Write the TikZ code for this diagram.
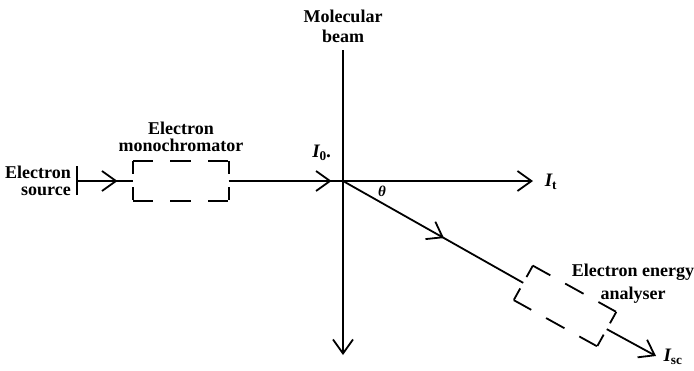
\documentclass[tikz,border=0pt]{standalone}
\usepackage{fontspec}
\setmainfont{Liberation Serif}
\usetikzlibrary{arrows.meta,positioning,decorations.markings}
\tikzset{
  beam/.style={
    line width=1.8pt
  },
  tip/.style={
    -{Straight Barb[length=14pt,width=20pt,line width=1.8pt]}
  },
  midtip/.style={
    postaction={decorate},
    decoration={markings,
      mark=at position #1 with {\arrow{Straight Barb[length=14pt,width=20pt,line width=1.8pt]}}}
  },
  instr/.style={
    minimum width=95pt,
    minimum height=39pt,
    inner sep=0pt
  },
  longside/.style={
    line width=1.8pt,
    dash pattern=on 20pt off 17pt on 21pt off 17pt
  },
  shortside/.style={
    line width=1.8pt,
    dash pattern=on 13pt off 13pt
  },
  lbl/.style={
    align=center,
    inner sep=0pt,
    font=\fontsize{18}{17}\selectfont\bfseries
  },
  sym/.style={
    inner sep=0pt,
    font=\fontsize{19}{19}\selectfont\bfseries\itshape
  }
}

\begin{document}
\begin{tikzpicture}[x=1pt,y=-1pt]
\useasboundingbox (0,0) rectangle (694,370);

% --- Points ---
\coordinate (src) at (77,181);
\coordinate (O) at (343,181);
\coordinate (mbtop) at (343,50);
\coordinate (mbend) at (343,355);
\coordinate (tend) at (533,181);
\coordinate (scend) at (656,356);

% --- Instruments (dashed boxes) ---
\node[instr] (mono) at (181,181) {};
\node[instr, rotate=-29] (ana) at (565,306) {};
\foreach \b in {mono,ana} {
  \draw[longside] (\b.north west) -- (\b.north east);
  \draw[longside] (\b.south west) -- (\b.south east);
  \draw[shortside] (\b.north west) -- (\b.south west);
  \draw[shortside] (\b.north east) -- (\b.south east);
}

% --- Source and beams ---
\draw[beam] ([yshift=-14pt]src) -- ([yshift=15pt]src);
\draw[beam, midtip=0.72] (src) -- (mono.west);
\draw[beam, midtip=0.9] (mono.east) -- (O);
\draw[beam, tip] (O) -- (tend);
\draw[beam, tip] (mbtop) -- (mbend);
\draw[beam, midtip=0.56] (O) -- (ana.west);
\draw[beam, tip] (ana.east) -- (scend);

% --- Labels ---
\node[lbl, align=right, anchor=north east] (srclbl) at (71,166) {Electron\\source};
\node[lbl, above=9pt of mono] (monolbl) {Electron\\monochromator};
\node[lbl, above=7pt of mbtop] (mblbl) {Molecular\\[3pt]beam};
\node[lbl, anchor=north] (analbl) at (633,264) {Electron energy\\[6pt]analyser};
\node[sym] (I0) at (322,153) {I\textsubscript{\upshape 0}.};
\node[sym] (It) at (551,182) {I\textsubscript{\upshape t}};
\node[sym] (Isc) at (673,357) {I\textsubscript{\upshape sc}};
\node[sym, font=\fontsize{15}{15}\selectfont\bfseries\itshape] (theta) at (382,191) {θ};

\end{tikzpicture}
\end{document}
